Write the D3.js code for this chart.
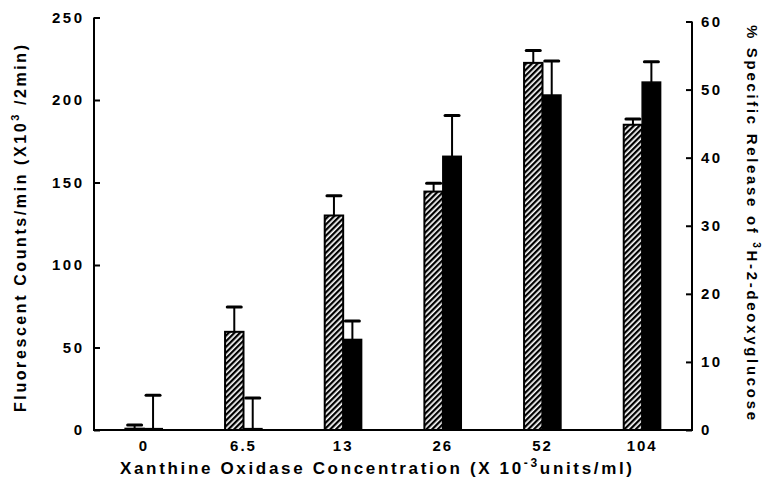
<!DOCTYPE html>
<html>
<head>
<meta charset="utf-8">
<script src="https://cdn.jsdelivr.net/npm/d3@7"></script>
<style>
  body { margin: 0; background: #fff; }
  text { font-family: "Liberation Sans", Arial, Helvetica, sans-serif; font-weight: bold; fill: #000; }
</style>
</head>
<body>
<svg width="764" height="481"></svg>
<script>
// concentrations (X 10^-3 units/ml)
var categories = ["0", "6.5", "13", "26", "52", "104"];
// hatched bars: fluorescent counts/min (left axis)
var fluorValues = [0.8, 59.5, 130, 144.5, 222.5, 185];
var fluorErrors = [2.2, 15, 12, 5, 7.5, 3.5];
// black bars: % specific release (right axis)
var releaseValues = [0.2, 0.2, 13.3, 40.2, 49.2, 51.1];
var releaseErrors = [4.9, 4.5, 2.7, 6, 5, 3];
var leftTicks = [0, 50, 100, 150, 200, 250];
var rightTicks = [0, 10, 20, 30, 40, 50, 60];

var width = 764;
var height = 481;
var x0 = 94, x1 = 692, yBottom = 430;

var svg = d3.select("svg")
            .attr("width", width)
            .attr("height", height)

// hatch pattern ////
var defs = svg.append("defs")
var pat = defs.append("pattern")
        .attr("id", "hatch")
        .attr("patternUnits", "userSpaceOnUse")
        .attr("width", 4)
        .attr("height", 4)
        .attr("patternTransform", "rotate(45)")
pat.append("rect").attr("width", 4).attr("height", 4).attr("fill", "#fff")
pat.append("rect")
    .attr("x", 0).attr("y", 0).attr("width", 2.3).attr("height", 4)
    .attr("fill", "#000")

var x = d3.scaleBand()
        .domain(categories)
        .range([x0, x1])
        .paddingInner(0.63)
        .paddingOuter(0.315)

var xSub = d3.scaleBand()
        .domain(["fluor", "release"])
        .range([0, x.bandwidth()])

var yLeft = d3.scaleLinear().domain([0, 250]).range([yBottom, 17.5])
var yRight = d3.scaleLinear().domain([0, 60]).range([yBottom, 21.5])

var rows = categories.map(function(c, i) {
    return {cat: c, fv: fluorValues[i], fe: fluorErrors[i], rv: releaseValues[i], re: releaseErrors[i]};
})

var g = svg.append("g")

// error bars first so bars sit on top of stems
function errorBar(sel, cx, yTop, yErr) {
    sel.append("line")
        .attr("x1", cx).attr("x2", cx)
        .attr("y1", yTop).attr("y2", yErr)
        .attr("stroke", "#000").attr("stroke-width", 2)
    sel.append("line")
        .attr("x1", cx - 7).attr("x2", cx + 7)
        .attr("y1", yErr).attr("y2", yErr)
        .attr("stroke", "#000").attr("stroke-width", 3)
        .attr("stroke-linecap", "round")
}

rows.forEach(function(d) {
    var cxF = x(d.cat) + xSub("fluor") + xSub.bandwidth() / 2
    var cxR = x(d.cat) + xSub("release") + xSub.bandwidth() / 2
    errorBar(g, cxF, yLeft(d.fv), yLeft(d.fv + d.fe))
    errorBar(g, cxR, yRight(d.rv), yRight(d.rv + d.re))
})

g.selectAll(".fbar")
    .data(rows)
    .enter().append("rect")
    .attr("class", "fbar")
    .attr("x", function(d) { return x(d.cat) + xSub("fluor"); })
    .attr("y", function(d) { return yLeft(d.fv); })
    .attr("width", xSub.bandwidth())
    .attr("height", function(d) { return yBottom - yLeft(d.fv); })
    .attr("fill", "url(#hatch)")
    .attr("stroke", "#000")
    .attr("stroke-width", 2)

g.selectAll(".rbar")
    .data(rows)
    .enter().append("rect")
    .attr("class", "rbar")
    .attr("x", function(d) { return x(d.cat) + xSub("release"); })
    .attr("y", function(d) { return yRight(d.rv); })
    .attr("width", xSub.bandwidth())
    .attr("height", function(d) { return yBottom - yRight(d.rv); })
    .attr("fill", "#000")
    .attr("stroke", "#000")
    .attr("stroke-width", 1.5)

// axes
var leftAxis = svg.append("g")
    .attr("transform", "translate(" + x0 + ",0)")
    .call(d3.axisLeft(yLeft).tickValues(leftTicks).tickSize(-6).tickPadding(12))
var rightAxis = svg.append("g")
    .attr("transform", "translate(" + x1 + ",0)")
    .call(d3.axisRight(yRight).tickValues(rightTicks).tickSize(-6).tickPadding(9))

;[leftAxis, rightAxis].forEach(function(a) {
    a.select(".domain").remove()
    a.selectAll(".tick line").attr("stroke", "#000").attr("stroke-width", 2)
    a.selectAll(".tick text")
        .style("font-size", "15px")
        .style("letter-spacing", "2.5px")
        .style("font-family", "'Liberation Sans', Arial, sans-serif")
})
leftAxis.selectAll(".tick text").attr("dx", "2.5px")

svg.append("path")
    .attr("d", "M" + x0 + "," + yLeft(250) + "V" + yBottom + "H" + x1 + "V" + yRight(60))
    .attr("fill", "none")
    .attr("stroke", "#000")
    .attr("stroke-width", 2)

// category labels
svg.append("g").selectAll("text")
    .data(categories)
    .enter().append("text")
    .attr("x", function(d) { return x(d) + x.bandwidth() / 2; })
    .attr("y", 451)
    .attr("text-anchor", "middle")
    .style("font-size", "15px")
    .style("letter-spacing", "2px")
    .text(function(d) { return d; })

// axis titles
var xt = svg.append("text")
    .attr("x", 120)
    .attr("y", 474)
    .attr("textLength", 512)
    .attr("lengthAdjust", "spacing")
    .style("font-size", "17px")
xt.append("tspan").text("Xanthine Oxidase Concentration (X 10")
xt.append("tspan").attr("dy", -7).style("font-size", "12px").text("-3")
xt.append("tspan").attr("dy", 7).text("units/ml)")

var lt = svg.append("text")
    .attr("transform", "translate(26,412) rotate(-90)")
    .attr("textLength", 367)
    .attr("lengthAdjust", "spacing")
    .style("font-size", "16px")
lt.append("tspan").text("Fluorescent Counts/min (X10")
lt.append("tspan").attr("dy", -7).style("font-size", "11px").text("3")
lt.append("tspan").attr("dy", 7).text(" /2min)")

var rt = svg.append("text")
    .attr("transform", "translate(747,25) rotate(90)")
    .attr("textLength", 395)
    .attr("lengthAdjust", "spacing")
    .style("font-size", "15px")
rt.append("tspan").text("% Specific Release of  ")
rt.append("tspan").attr("dy", -6).style("font-size", "10px").text("3")
rt.append("tspan").attr("dy", 6).text("H-2-deoxyglucose")
</script>
</body>
</html>
